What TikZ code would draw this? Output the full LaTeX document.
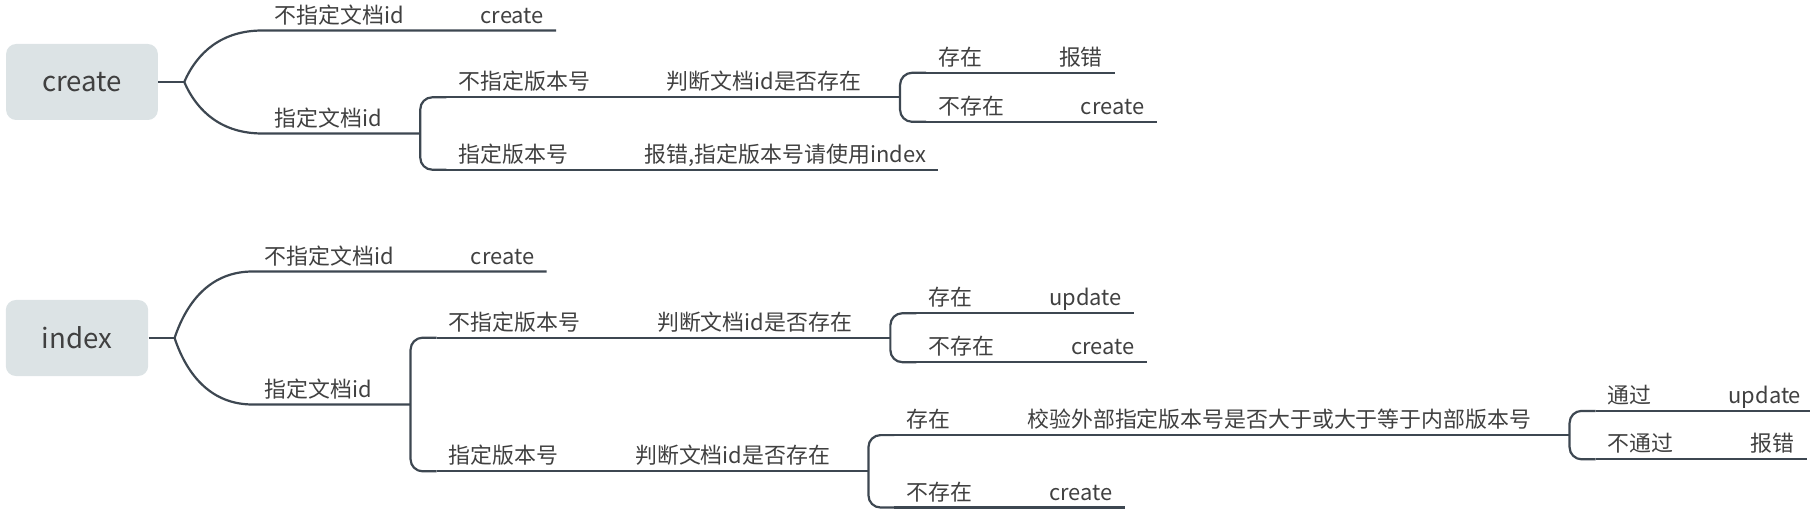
\documentclass[tikz,border=0pt]{standalone}
\usepackage{fontspec}
\setmainfont{Noto Sans CJK SC}
\usepackage{tikz}
\usetikzlibrary{positioning}

\definecolor{linecol}{HTML}{3D4751}
\definecolor{txtcol}{HTML}{404040}
\definecolor{rootfill}{HTML}{DCE3E5}

\begin{document}
\begin{tikzpicture}[
    x=0.5pt, y=-0.5pt,
    node distance=26pt,
    root/.style={fill=rootfill, rounded corners=5pt, minimum height=38pt, inner xsep=18pt, text=txtcol, font=\fontsize{13.8}{16}\selectfont},
    topic/.style={inner xsep=6pt, inner ysep=0pt, text height=8pt, text depth=3.5pt, text=txtcol, font=\fontsize{10.95}{13}\selectfont},
    link/.style={draw=linecol, line width=1.1pt},
    bracket/.style={link, rounded corners=6pt}
]
\useasboundingbox (0,0) rectangle (1810,518);

% create
\node[root] (create) at (82,82) {create};
\coordinate[right=13pt of create] (c-fork);

\node[topic, above right=25.75pt and 39pt of c-fork, anchor=south west] (c-noid) {不指定文档id};
\node[topic, right=of c-noid] (c-noid-new) {create};

\node[topic, below right=25.75pt and 39pt of c-fork, anchor=south west] (c-id) {指定文档id};
\path (c-id.south east) ++(13pt,0) coordinate (c-id-fork);

\node[topic, right=of c-id, yshift=18.1pt] (c-nover) {不指定版本号};
\node[topic, right=of c-nover] (c-check) {判断文档id是否存在};
\path (c-check.south east) ++(13pt,0) coordinate (c-check-fork);
\node[topic, right=of c-check, yshift=12.25pt] (c-exist) {存在};
\node[topic, right=of c-exist] (c-exist-err) {报错};
\node[topic, right=of c-check, yshift=-12.25pt] (c-absent) {不存在};
\node[topic, right=of c-absent] (c-absent-new) {create};

\node[topic, right=of c-id, yshift=-18.1pt] (c-ver) {指定版本号};
\node[topic, right=of c-ver] (c-ver-err) {报错,指定版本号请使用index};

% index
\node[root] (index) at (77,338) {index};
\coordinate[right=13pt of index] (i-fork);

\node[topic, above right=33.25pt and 39pt of i-fork, anchor=south west] (i-noid) {不指定文档id};
\node[topic, right=of i-noid] (i-noid-new) {create};

\node[topic, below right=33.25pt and 39pt of i-fork, anchor=south west] (i-id) {指定文档id};
\path (i-id.south east) ++(13pt,0) coordinate (i-id-fork);

\node[topic, right=of i-id, yshift=33.4pt] (i-nover) {不指定版本号};
\node[topic, right=of i-nover] (i-check) {判断文档id是否存在};
\path (i-check.south east) ++(13pt,0) coordinate (i-check-fork);
\node[topic, right=of i-check, yshift=12.25pt] (i-exist) {存在};
\node[topic, right=of i-exist] (i-exist-upd) {update};
\node[topic, right=of i-check, yshift=-12.25pt] (i-absent) {不存在};
\node[topic, right=of i-absent] (i-absent-new) {create};

\node[topic, right=of i-id, yshift=-33.4pt] (i-ver) {指定版本号};
\node[topic, right=of i-ver] (i-vcheck) {判断文档id是否存在};
\path (i-vcheck.south east) ++(13pt,0) coordinate (i-vcheck-fork);
\node[topic, right=of i-vcheck, yshift=18.1pt] (i-vexist) {存在};
\node[topic, right=of i-vexist] (i-compare) {校验外部指定版本号是否大于或大于等于内部版本号};
\path (i-compare.south east) ++(13pt,0) coordinate (i-compare-fork);
\node[topic, right=of i-compare, yshift=12.1pt] (i-pass) {通过};
\node[topic, right=of i-pass] (i-pass-upd) {update};
\node[topic, right=of i-compare, yshift=-12.1pt] (i-fail) {不通过};
\node[topic, right=of i-fail] (i-fail-err) {报错};
\node[topic, right=of i-vcheck, yshift=-18.1pt] (i-vabsent) {不存在};
\node[topic, right=of i-vabsent] (i-vabsent-new) {create};

% connections
\draw[link] (create.east) -- (c-fork);
\draw[link] (c-fork) .. controls +(13,-30) and +(-40,0) .. (c-noid.south west) -- (c-noid-new.south east);
\draw[link] (c-fork) .. controls +(13,30) and +(-40,0) .. (c-id.south west) -- (c-id-fork);
\draw[bracket] (c-nover.south west) -| (c-id-fork) |- (c-ver.south west);
\draw[link] (c-nover.south west) -- (c-check-fork);
\draw[bracket] (c-exist.south west) -| (c-check-fork) |- (c-absent.south west);
\draw[link] (c-exist.south west) -- (c-exist-err.south east);
\draw[link] (c-absent.south west) -- (c-absent-new.south east);
\draw[link] (c-ver.south west) -- (c-ver-err.south east);

\draw[link] (index.east) -- (i-fork);
\draw[link] (i-fork) .. controls +(13,-39) and +(-40,0) .. (i-noid.south west) -- (i-noid-new.south east);
\draw[link] (i-fork) .. controls +(13,39) and +(-40,0) .. (i-id.south west) -- (i-id-fork);
\draw[bracket] (i-nover.south west) -| (i-id-fork) |- (i-ver.south west);
\draw[link] (i-nover.south west) -- (i-check-fork);
\draw[bracket] (i-exist.south west) -| (i-check-fork) |- (i-absent.south west);
\draw[link] (i-exist.south west) -- (i-exist-upd.south east);
\draw[link] (i-absent.south west) -- (i-absent-new.south east);
\draw[link] (i-ver.south west) -- (i-vcheck-fork);
\draw[bracket] (i-vexist.south west) -| (i-vcheck-fork) |- (i-vabsent.south west);
\draw[link] (i-vexist.south west) -- (i-compare-fork);
\draw[bracket] (i-pass.south west) -| (i-compare-fork) |- (i-fail.south west);
\draw[link] (i-pass.south west) -- (i-pass-upd.south east);
\draw[link] (i-fail.south west) -- (i-fail-err.south east);
\draw[link] (i-vabsent.south west) -- (i-vabsent-new.south east);

\end{tikzpicture}
\end{document}
